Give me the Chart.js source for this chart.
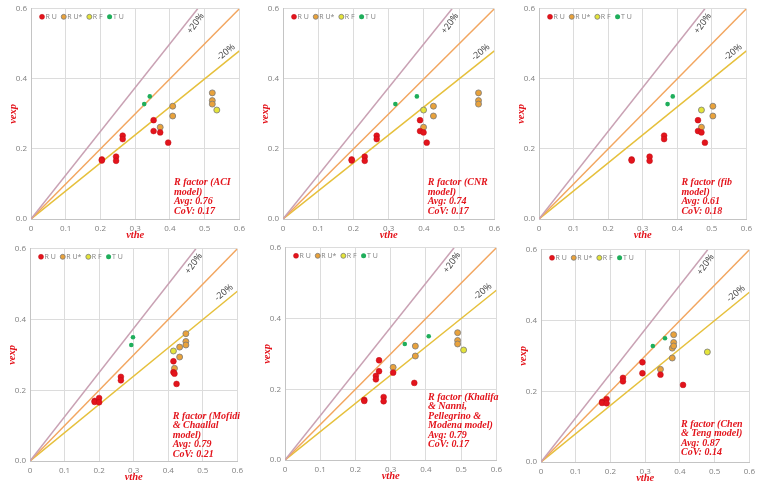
<!DOCTYPE html>
<html>
<head>
<meta charset="utf-8">
<script src="https://cdn.jsdelivr.net/npm/chart.js@4.4.1/dist/chart.umd.min.js"></script>
<style>
  body { margin: 0; background: #fff; width: 761px; height: 484px; position: relative; overflow: hidden; }
  .panel { position: absolute; }
</style>
</head>
<body>
<canvas class="panel" id="c1"></canvas>
<canvas class="panel" id="c2"></canvas>
<canvas class="panel" id="c3"></canvas>
<canvas class="panel" id="c4"></canvas>
<canvas class="panel" id="c5"></canvas>
<canvas class="panel" id="c6"></canvas>
<script>
// experimental shear (same in every panel)
const vexpRU  = [0.170, 0.167, 0.178, 0.166, 0.238, 0.228, 0.282, 0.251, 0.247, 0.218];
const vexpRUs = [0.262, 0.322, 0.294, 0.360, 0.338, 0.328];
const vexpRF  = [0.311];
const vexpTU  = [0.328, 0.350];

// theoretical shear per model
const aciRU  = [0.204, 0.204, 0.245, 0.245, 0.264, 0.264, 0.353, 0.353, 0.372, 0.395];
const aciRUs = [0.372, 0.408, 0.408, 0.522, 0.522, 0.522];
const aciRF  = [0.535];
const aciTU  = [0.326, 0.342];

const cnrRU  = [0.195, 0.195, 0.232, 0.232, 0.266, 0.266, 0.389, 0.389, 0.399, 0.408];
const cnrRUs = [0.399, 0.427, 0.427, 0.555, 0.555, 0.555];
const cnrRF  = [0.399];
const cnrTU  = [0.319, 0.380];

const fibRU  = [0.268, 0.268, 0.320, 0.320, 0.362, 0.362, 0.460, 0.460, 0.470, 0.480];
const fibRUs = [0.470, 0.503, 0.503];
const fibRF  = [0.470];
const fibTU  = [0.372, 0.387];

const mofRU  = [0.187, 0.187, 0.200, 0.200, 0.263, 0.263, 0.415, 0.415, 0.418, 0.424];
const mofRUs = [0.418, 0.433, 0.433, 0.451, 0.451, 0.451];
const mofRF  = [0.415];
const mofTU  = [0.293, 0.298];

const khaRU  = [0.225, 0.225, 0.280, 0.280, 0.258, 0.258, 0.267, 0.267, 0.307, 0.367];
const khaRUs = [0.307, 0.370, 0.370, 0.490, 0.490, 0.490];
const khaRF  = [0.507];
const khaTU  = [0.340, 0.408];

const chenRU  = [0.176, 0.176, 0.189, 0.189, 0.236, 0.236, 0.292, 0.292, 0.344, 0.409];
const chenRUs = [0.344, 0.378, 0.378, 0.382, 0.382, 0.382];
const chenRF  = [0.479];
const chenTU  = [0.322, 0.357];

// reference lines
const upperX = [0, 0.48], upperY = [0, 0.6];
const equalX = [0, 0.6],  equalY = [0, 0.6];
const lowerX = [0, 0.6],  lowerY = [0, 0.48];

const xTicksStep = 0.1;
const yTicksStep = 0.2;

const RED = '#e3141c';

function pts(xs, ys) {
  return xs.map((v, i) => ({ x: v, y: ys[i] }));
}

// text drawn inside the plot: band labels, R factor box, legend
const notesPlugin = {
  id: 'notes',
  afterDatasetsDraw(chart, args, opts) {
    const { ctx, chartArea } = chart;
    const x = chart.scales.x, y = chart.scales.y;
    ctx.save();

    ctx.fillStyle = '#404040';
    ctx.font = '9px "Open Sans"';
    ctx.textAlign = 'center';
    ctx.textBaseline = 'middle';
    [['+20%', 0.474, 0.558, -55], ['-20%', 0.561, 0.476, -39]].forEach(t => {
      ctx.save();
      ctx.translate(x.getPixelForValue(t[1]), y.getPixelForValue(t[2]));
      ctx.rotate(t[3] * Math.PI / 180);
      ctx.fillText(t[0], 0, 0);
      ctx.restore();
    });

    ctx.fillStyle = RED;
    ctx.font = 'italic bold 10px "Liberation Serif"';
    ctx.textAlign = 'left';
    const lines = opts.lines;
    const x0 = x.getPixelForValue(opts.at[0]);
    const yb = y.getPixelForValue(opts.at[1]);
    lines.forEach((s, i) => ctx.fillText(s, x0, yb - (lines.length - 1 - i) * 9.5));

    // legend inside the plot area
    ctx.font = '7px "Open Sans"';
    let cx = chartArea.left + 11;
    const cy = chartArea.top + 8;
    chart.data.datasets.slice(0, 4).forEach(ds => {
      ctx.beginPath();
      ctx.arc(cx, cy, 2.5, 0, Math.PI * 2);
      ctx.fillStyle = ds.backgroundColor;
      ctx.fill();
      if (ds.borderWidth) {
        ctx.lineWidth = ds.borderWidth;
        ctx.strokeStyle = ds.borderColor;
        ctx.stroke();
      }
      ctx.fillStyle = '#7f7f7f';
      ctx.fillText(ds.label, cx + 3.5, cy);
      cx += 3.5 + ctx.measureText(ds.label).width + 7;
    });
    ctx.restore();
  }
};

function makeChart(id, p) {
  const el = document.getElementById(id);
  // chart area box, canvas gets 31px for y axis, 24px for x axis
  el.width = p.area[2] - p.area[0] + 37;
  el.height = p.area[3] - p.area[1] + 30;
  el.style.left = (p.area[0] - 31) + 'px';
  el.style.top = (p.area[1] - 6) + 'px';

  const titleFont = { family: 'Liberation Serif', size: 10.5, style: 'italic', weight: 'bold' };
  const tickFont = { family: 'Open Sans', size: 8 };

  return new Chart(el, {
    type: 'scatter',
    data: {
      datasets: [
        { label: 'R U', data: pts(p.ru, vexpRU), backgroundColor: RED, borderColor: '#c00d14', borderWidth: 0.5, pointRadius: 2.9 },
        { label: 'R U*', data: pts(p.rus, vexpRUs), backgroundColor: '#e9a23b', borderColor: '#7a7a7a', borderWidth: 0.8, pointRadius: 3 },
        { label: 'R F', data: pts(p.rf, vexpRF), backgroundColor: '#e4e43a', borderColor: '#7a7a7a', borderWidth: 0.8, pointRadius: 3 },
        { label: 'T U', data: pts(p.tu, vexpTU), backgroundColor: '#1fae5b', borderWidth: 0, pointRadius: 2.3 },
        { type: 'line', label: '+20%', data: pts(upperX, upperY), borderColor: '#c9a2b4', borderWidth: 1.5, pointRadius: 0 },
        { type: 'line', label: '1:1', data: pts(equalX, equalY), borderColor: '#f2a660', borderWidth: 1.5, pointRadius: 0 },
        { type: 'line', label: '-20%', data: pts(lowerX, lowerY), borderColor: '#e6c03c', borderWidth: 1.5, pointRadius: 0 }
      ]
    },
    options: {
      responsive: false,
      animation: false,
      layout: { padding: { left: 0, top: 6, right: 6, bottom: 0 } },
      plugins: {
        legend: { display: false },
        tooltip: { enabled: false },
        notes: { lines: p.note, at: p.noteAt }
      },
      scales: {
        x: {
          type: 'linear', min: 0, max: 0.6,
          ticks: { stepSize: xTicksStep, color: '#808080', font: tickFont, padding: 5 },
          grid: { color: '#dcdcdc', drawTicks: false },
          border: { color: '#c4c4c4' },
          title: { display: true, text: 'vthe', color: RED, font: titleFont, padding: { top: 0, bottom: 1 } },
          afterFit(s) { s.height = 24; }
        },
        y: {
          type: 'linear', min: 0, max: 0.6,
          ticks: { stepSize: yTicksStep, color: '#808080', font: tickFont, padding: 4, callback: v => v.toFixed(1) },
          grid: { color: '#dcdcdc', drawTicks: false },
          border: { color: '#c4c4c4' },
          title: { display: true, text: 'vexp', color: RED, font: titleFont, padding: { top: 7, bottom: 0 } },
          afterFit(s) { s.width = 31; }
        }
      }
    },
    plugins: [notesPlugin]
  });
}

makeChart('c1', { area: [31, 6, 244, 219], ru: aciRU, rus: aciRUs, rf: aciRF, tu: aciTU,
  note: ['R factor (ACI', 'model)', 'Avg: 0.76', 'CoV: 0.17'], noteAt: [0.412, 0.023] });
makeChart('c2', { area: [283, 6, 499, 219], ru: cnrRU, rus: cnrRUs, rf: cnrRF, tu: cnrTU,
  note: ['R factor (CNR', 'model)', 'Avg: 0.74', 'CoV: 0.17'], noteAt: [0.411, 0.023] });
makeChart('c3', { area: [539, 6, 751, 219], ru: fibRU, rus: fibRUs, rf: fibRF, tu: fibTU,
  note: ['R factor (fib', 'model)', 'Avg: 0.61', 'CoV: 0.18'], noteAt: [0.412, 0.023] });
makeChart('c4', { area: [30, 246, 242, 461], ru: mofRU, rus: mofRUs, rf: mofRF, tu: mofTU,
  note: ['R factor (Mofidi', '& Chaallal', 'model)', 'Avg: 0.79', 'CoV: 0.21'], noteAt: [0.413, 0.02] });
makeChart('c5', { area: [285, 245, 501, 460], ru: khaRU, rus: khaRUs, rf: khaRF, tu: khaTU,
  note: ['R factor (Khalifa', '& Nanni,', 'Pellegrino &', 'Modena model)', 'Avg: 0.79', 'CoV: 0.17'], noteAt: [0.406, 0.044] });
makeChart('c6', { area: [541, 247, 754, 462], ru: chenRU, rus: chenRUs, rf: chenRF, tu: chenTU,
  note: ['R factor (Chen', '& Teng model)', 'Avg: 0.87', 'CoV: 0.14'], noteAt: [0.403, 0.026] });
</script>
</body>
</html>
